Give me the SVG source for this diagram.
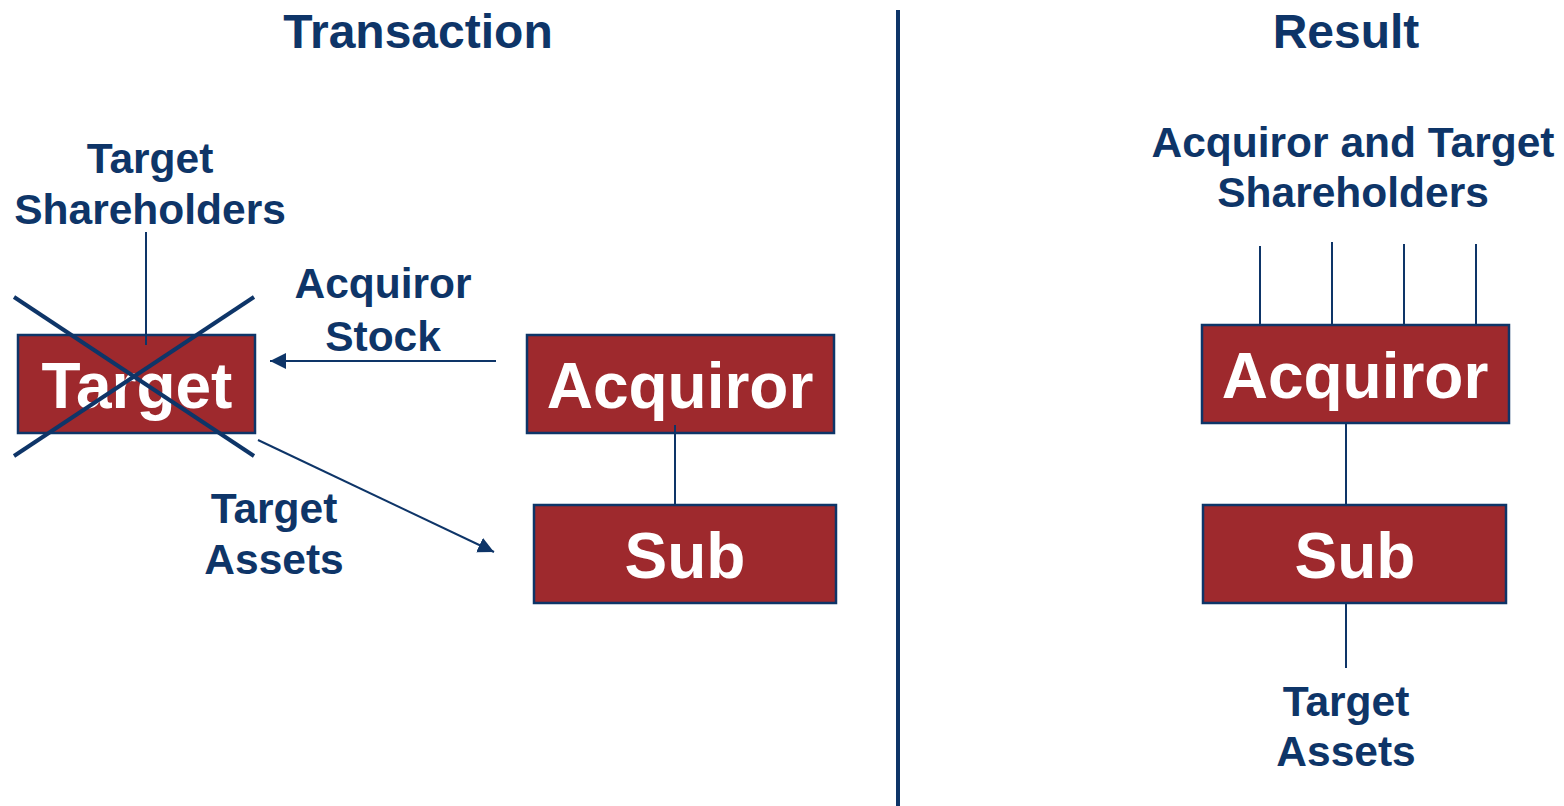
<svg xmlns="http://www.w3.org/2000/svg" width="1564" height="806" viewBox="0 0 1564 806">
  <style>
    .lbl { font-family: "Liberation Sans", Arial, sans-serif; font-weight: bold; fill: #0E3568; text-anchor: middle; }
    .title { font-size: 48px; }
    .cap { font-size: 42.5px; }
    .box { fill: #9E292D; stroke: #0E3568; stroke-width: 2.5; }
    .boxtxt { font-family: "Liberation Sans", Arial, sans-serif; font-weight: bold; fill: #FFFFFF; text-anchor: middle; font-size: 64px; }
    .ln { stroke: #0E3568; stroke-width: 2; fill: none; }
    .x { stroke: #0E3568; stroke-width: 4; }
  </style>
  <defs>
    <marker id="arrow" viewBox="0 0 10 10" refX="10" refY="5" markerWidth="16" markerHeight="16" markerUnits="userSpaceOnUse" orient="auto">
      <path d="M0,0 L10,5 L0,10 Z" fill="#0E3568"/>
    </marker>
  </defs>
  <rect width="1564" height="806" fill="#FFFFFF"/>

  <!-- section titles and divider -->
  <text class="lbl title" x="418" y="48">Transaction</text>
  <text class="lbl title" x="1346" y="48">Result</text>
  <line x1="898" y1="10" x2="898" y2="806" stroke="#0E3568" stroke-width="4"/>

  <!-- transaction side -->
  <g id="target-shareholders">
    <text class="lbl cap" x="150" y="173">Target</text>
    <text class="lbl cap" x="150" y="224">Shareholders</text>
  </g>
  <g id="acquiror-stock">
    <text class="lbl cap" x="383" y="298">Acquiror</text>
    <text class="lbl cap" x="383" y="351">Stock</text>
  </g>
  <g id="target-assets">
    <text class="lbl cap" x="274" y="523">Target</text>
    <text class="lbl cap" x="274" y="574">Assets</text>
  </g>
  <g id="target">
    <rect class="box" x="18" y="335" width="237" height="98"/>
    <text class="boxtxt" x="137" y="408">Target</text>
    <line class="x" x1="14" y1="297" x2="254" y2="456"/>
    <line class="x" x1="14" y1="456" x2="254" y2="297"/>
  </g>
  <g id="acquiror">
    <rect class="box" x="527" y="335" width="307" height="98"/>
    <text class="boxtxt" x="680" y="408">Acquiror</text>
  </g>
  <g id="sub">
    <rect class="box" x="534" y="505" width="302" height="98"/>
    <text class="boxtxt" x="685" y="578">Sub</text>
  </g>

  <!-- result side -->
  <g id="result-shareholders">
    <text class="lbl cap" x="1353" y="157">Acquiror and Target</text>
    <text class="lbl cap" x="1353" y="207">Shareholders</text>
  </g>
  <g id="result-acquiror">
    <rect class="box" x="1202" y="325" width="307" height="98"/>
    <text class="boxtxt" x="1355" y="398">Acquiror</text>
  </g>
  <g id="result-sub">
    <rect class="box" x="1203" y="505" width="303" height="98"/>
    <text class="boxtxt" x="1355" y="578">Sub</text>
  </g>
  <g id="result-assets">
    <text class="lbl cap" x="1346" y="716">Target</text>
    <text class="lbl cap" x="1346" y="766">Assets</text>
  </g>

  <!-- connectors, drawn over the boxes where they run into them -->
  <g id="connectors">
    <line class="ln" x1="146" y1="232" x2="146" y2="345"/>
    <line class="ln" x1="496" y1="361" x2="270" y2="361" marker-end="url(#arrow)"/>
    <line class="ln" x1="258" y1="440" x2="494" y2="552" marker-end="url(#arrow)"/>
    <line class="ln" x1="675" y1="425" x2="675" y2="505"/>
    <line class="ln" x1="1260" y1="246" x2="1260" y2="325"/>
    <line class="ln" x1="1332" y1="242" x2="1332" y2="325"/>
    <line class="ln" x1="1404" y1="244" x2="1404" y2="325"/>
    <line class="ln" x1="1476" y1="244" x2="1476" y2="325"/>
    <line class="ln" x1="1346" y1="424" x2="1346" y2="505"/>
    <line class="ln" x1="1346" y1="604" x2="1346" y2="668"/>
  </g>
</svg>
